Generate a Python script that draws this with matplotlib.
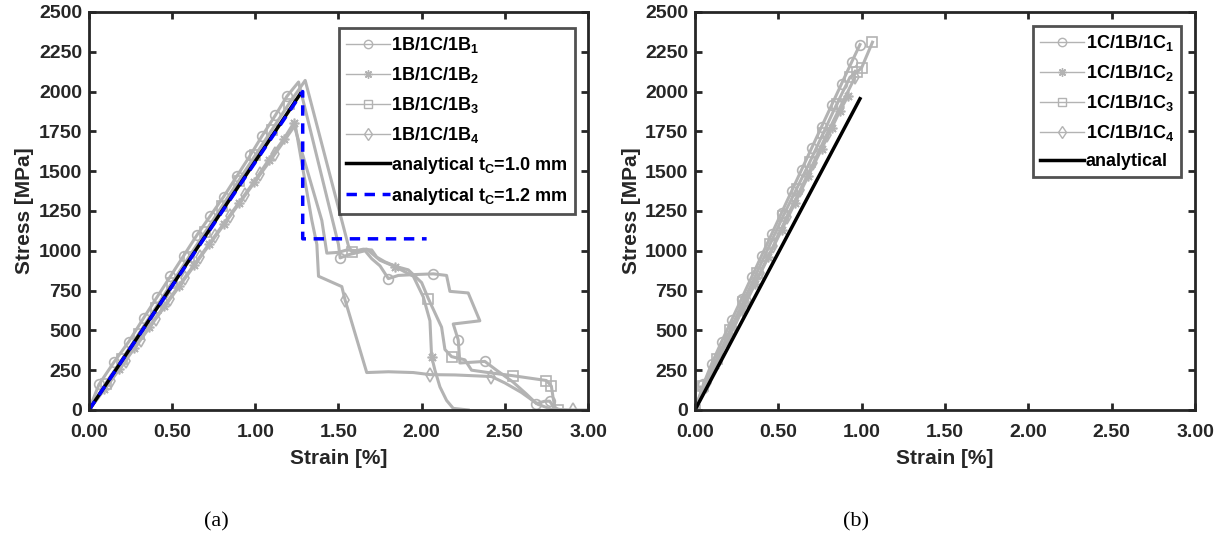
import matplotlib
matplotlib.use('Agg')
import matplotlib.pyplot as plt
from matplotlib.lines import Line2D

plt.rcParams['font.family'] = ['Liberation Sans Narrow', 'Liberation Sans', 'DejaVu Sans']
plt.rcParams['font.weight'] = 'bold'
plt.rcParams['mathtext.fontset'] = 'custom'
plt.rcParams['mathtext.rm'] = 'Liberation Sans:bold'
plt.rcParams['mathtext.it'] = 'Liberation Sans:bold'
plt.rcParams['mathtext.bf'] = 'Liberation Sans:bold'
plt.rcParams['mathtext.default'] = 'rm'

GRAY = '#b3b3b3'
ASTERISK = (8, 2, 0)

# ---- panel (a): 1B/1C/1B ----
a1_x = [0.00, 0.06, 0.15, 0.24, 0.33, 0.41, 0.49, 0.57, 0.65, 0.73, 0.81, 0.89, 0.97, 1.04, 1.12, 1.19, 1.26,
        1.50, 1.51, 1.56, 1.62, 1.66, 1.70, 1.75, 1.80, 1.86, 1.95, 2.07, 2.15, 2.17, 2.28, 2.35, 2.19,
        2.22, 2.23, 2.38, 2.45, 2.55, 2.63, 2.69, 2.74, 2.77, 2.80, 2.84]
a1_y = [0, 160, 300, 430, 580, 710, 840, 970, 1100, 1220, 1340, 1470, 1600, 1720, 1850, 1970, 2060,
        1040, 955, 975, 990, 1000, 950, 905, 825, 845, 850, 855, 845, 745, 735, 560, 540,
        440, 295, 305, 250, 175, 100, 40, 55, 55, 10, 0]
a1_mk = list(range(1, 16)) + [18, 24, 27, 33, 35, 39, 41]

a2_x = [0.00, 0.09, 0.18, 0.27, 0.36, 0.45, 0.54, 0.63, 0.72, 0.81, 0.90, 0.99, 1.08, 1.17, 1.23,
        1.40, 1.43, 1.50, 1.55, 1.62, 1.67, 1.75, 1.84, 1.95, 2.01, 2.05, 2.06, 2.08, 2.11, 2.15, 2.19, 2.28]
a2_y = [0, 130, 260, 390, 520, 650, 780, 910, 1040, 1170, 1300, 1430, 1570, 1700, 1800,
        1190, 985, 990, 1005, 1000, 1010, 940, 900, 840, 710, 560, 335, 250, 145, 60, 10, 0]
a2_mk = list(range(1, 15)) + [22, 26]

a3_x = [0.00, 0.10, 0.20, 0.30, 0.40, 0.50, 0.60, 0.70, 0.80, 0.90, 1.00, 1.10, 1.20, 1.30,
        1.56, 1.58, 1.65, 1.70, 1.73, 1.78, 1.85, 1.92, 2.00, 2.04, 2.08, 2.12, 2.14, 2.18, 2.26, 2.30,
        2.40, 2.55, 2.65, 2.75, 2.78, 2.79, 2.80, 2.82]
a3_y = [0, 165, 320, 480, 640, 800, 960, 1120, 1280, 1440, 1600, 1760, 1920, 2070,
        1030, 995, 1010, 1005, 960, 930, 900, 880, 800, 700, 610, 520, 380, 335, 315, 250,
        235, 215, 200, 185, 150, 80, 20, 0]
a3_mk = list(range(1, 13)) + [15, 23, 27, 31, 33, 34, 37]

a4_x = [0.00, 0.13, 0.22, 0.31, 0.40, 0.49, 0.58, 0.67, 0.76, 0.85, 0.94, 1.03, 1.12, 1.24,
        1.34, 1.37, 1.38, 1.52, 1.54, 1.60, 1.67, 1.80, 1.95, 2.05, 2.20, 2.42, 2.50, 2.60, 2.70,
        2.78, 2.91, 3.00]
a4_y = [0, 180, 310, 440, 570, 700, 830, 960, 1090, 1220, 1350, 1480, 1610, 1790,
        1190, 1040, 840, 775, 690, 480, 235, 240, 235, 222, 220, 210, 170, 110, 35,
        5, 0, 0]
a4_mk = list(range(0, 13)) + [18, 23, 25, 30]

an10_x = [0.00, 1.27]
an10_y = [0, 1985]
an12_x = [0.00, 1.285, 1.285, 2.03]
an12_y = [0, 2000, 1075, 1075]

# ---- panel (b): 1C/1B/1C ----
b1_x = [0.00, 0.05, 0.10, 0.16, 0.22, 0.28, 0.34, 0.40, 0.46, 0.52, 0.58, 0.64, 0.70, 0.76, 0.82, 0.88, 0.94, 0.99]
b1_y = [0, 160, 290, 430, 565, 700, 835, 970, 1105, 1240, 1375, 1510, 1645, 1780, 1915, 2050, 2185, 2295]
b2_x = [0.00, 0.05, 0.12, 0.20, 0.28, 0.36, 0.44, 0.52, 0.60, 0.68, 0.76, 0.82, 0.87, 0.92]
b2_y = [0, 130, 280, 450, 620, 790, 960, 1130, 1300, 1470, 1640, 1770, 1880, 1975]
b3_x = [0.00, 0.05, 0.13, 0.21, 0.29, 0.37, 0.45, 0.53, 0.61, 0.69, 0.77, 0.85, 0.93, 0.97, 1.00, 1.065]
b3_y = [0, 150, 320, 500, 680, 860, 1040, 1220, 1390, 1560, 1740, 1920, 2090, 2120, 2150, 2310]
b4_x = [0.00, 0.07, 0.15, 0.23, 0.31, 0.39, 0.47, 0.55, 0.63, 0.71, 0.79, 0.87, 0.96]
b4_y = [0, 170, 340, 515, 690, 860, 1030, 1210, 1380, 1550, 1730, 1900, 2090]
ban_x = [0.00, 0.99]
ban_y = [0, 1955]

a_labels = ['1B/1C/1B$_1$', '1B/1C/1B$_2$', '1B/1C/1B$_3$', '1B/1C/1B$_4$',
            'analytical t$_C$=1.0 mm', 'analytical t$_C$=1.2 mm']
b_labels = ['1C/1B/1C$_1$', '1C/1B/1C$_2$', '1C/1B/1C$_3$', '1C/1B/1C$_4$', 'analytical']
markers = ['o', ASTERISK, 's', 'd']

fig = plt.figure(figsize=(12.29, 5.43), dpi=100)
axa = fig.add_axes([0.0724, 0.245, 0.406, 0.733])
axb = fig.add_axes([0.5655, 0.245, 0.4068, 0.733])

mk_kw = dict(color=GRAY, lw=2.2, mfc='none', mec=GRAY, ms=7, mew=1.2)
for (x, y, mk, m) in [(a4_x, a4_y, a4_mk, 'd'), (a2_x, a2_y, a2_mk, ASTERISK),
                      (a3_x, a3_y, a3_mk, 's'), (a1_x, a1_y, a1_mk, 'o')]:
    axa.plot(x, y, marker=m, markevery=mk, **mk_kw)
axa.plot(an10_x, an10_y, color='black', lw=2.5)
axa.plot(an12_x, an12_y, color='#0000ff', lw=2.5, ls=(0, (3, 2.2)))

for (x, y, m) in [(b4_x, b4_y, 'd'), (b2_x, b2_y, ASTERISK), (b3_x, b3_y, 's'), (b1_x, b1_y, 'o')]:
    axb.plot(x, y, marker=m, **mk_kw)
axb.plot(ban_x, ban_y, color='black', lw=2.5)


def style(ax):
    ax.set_xlim(0, 3)
    ax.set_ylim(0, 2500)
    ax.set_xticks([0, 0.5, 1, 1.5, 2, 2.5, 3])
    ax.set_xticklabels(['0.00', '0.50', '1.00', '1.50', '2.00', '2.50', '3.00'])
    ax.set_yticks(range(0, 2501, 250))
    ax.tick_params(direction='in', length=5, width=2, top=True, right=True,
                   labelsize=14, colors='#262626')
    ax.tick_params(axis='x', pad=10)
    ax.tick_params(axis='y', pad=5)
    for s in ax.spines.values():
        s.set_linewidth(2)
        s.set_color('#262626')
    ax.set_xlabel('Strain [%]', fontsize=15, fontweight='bold', color='#262626', labelpad=6)
    ax.set_ylabel('Stress [MPa]', fontsize=15, fontweight='bold', color='#262626', labelpad=3)


style(axa)
style(axb)

thin = dict(color=GRAY, lw=1, mfc='none', mec=GRAY, ms=6, mew=1)
ha = [Line2D([], [], marker=m, **thin) for m in markers]
ha.append(Line2D([], [], color='black', lw=2.5))
ha.append(Line2D([], [], color='#0000ff', lw=2.5, ls=(0, (3, 2.2))))
leg_kw = dict(fontsize=13, frameon=True, fancybox=False, edgecolor='#262626',
              handlelength=2.4, handletextpad=0.1, labelspacing=0.55, borderpad=0.4,
              borderaxespad=0)
la = axa.legend(ha, a_labels, loc='upper right', bbox_to_anchor=(0.974, 0.96), **leg_kw)
la.get_frame().set_linewidth(2)

hb = [Line2D([], [], marker=m, **thin) for m in markers]
hb.append(Line2D([], [], color='black', lw=2.5))
lb = axb.legend(hb, b_labels, loc='upper right', bbox_to_anchor=(0.972, 0.965), **leg_kw)
lb.get_frame().set_linewidth(2)

fig.text(216 / 1229, 1 - 522 / 543, '(a)', fontsize=16, family='Liberation Serif',
         weight='normal', ha='center', va='center')
fig.text(856 / 1229, 1 - 522 / 543, '(b)', fontsize=16, family='Liberation Serif',
         weight='normal', ha='center', va='center')

fig.savefig('out.png', dpi=100)
